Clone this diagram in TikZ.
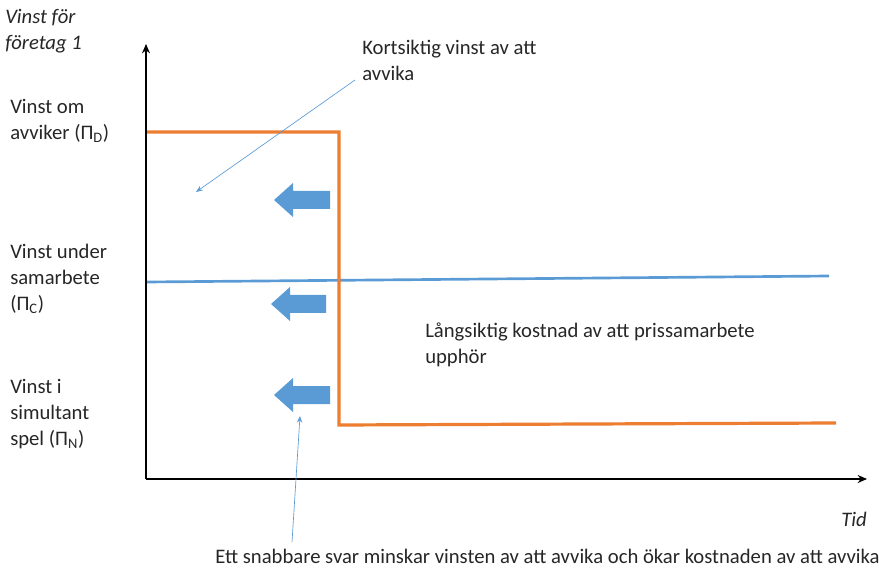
\documentclass[tikz,border=0pt]{standalone}
\usepackage{fontspec}
\setmainfont{Carlito}
\usetikzlibrary{arrows.meta}
\definecolor{axisblack}{RGB}{0,0,0}
\definecolor{devorange}{RGB}{237,125,49}
\definecolor{coopblue}{RGB}{91,155,213}
\tikzset{
  lbl/.style={anchor=north west, inner sep=0pt, align=left, font=\fontsize{15.5}{19.5}\selectfont, text=black!85},
  axisline/.style={draw=axisblack, line width=1.6pt, -{Stealth[length=7pt,width=6pt]}},
  blockarrow/.style={fill=coopblue, draw=none},
  callout/.style={draw=coopblue, line width=0.5pt, -{Stealth[length=5pt,width=4pt]}}
}
\begin{document}
\begin{tikzpicture}[x=0.75pt,y=-0.75pt]
\useasboundingbox (0,0) rectangle (879,574);
% axes
\coordinate (origin) at (146,479);
\coordinate (ytop) at (146,44);
\coordinate (xend) at (867,479);
\draw[axisline] (origin) -- (ytop);
\draw[axisline] (origin) -- (xend);
% cooperation profit
\coordinate (cA) at (147,282);
\coordinate (cB) at (829,276);
\draw[coopblue, line width=2pt] (cA) -- (cB);
% deviation profit then punishment
\coordinate (dA) at (147,132);
\coordinate (dB) at (339,132);
\coordinate (dC) at (339,425);
\coordinate (dD) at (836,423);
\draw[devorange, line width=2.4pt] (dA) -- (dB) -- (dC) -- (dD);
% left-pointing block arrows
\foreach \n/\yc/\xl/\xr in {a1/200/274/330, a2/304/271/326, a3/395/274/330}{
  \path[blockarrow] (\xr,\yc-9) -- (\xl+19,\yc-9) -- (\xl+19,\yc-17) -- (\xl,\yc)
    -- (\xl+19,\yc+17) -- (\xl+19,\yc+9) -- (\xr,\yc+9) -- cycle;
}
% labels
\node[lbl, font=\fontsize{15.5}{19.5}\selectfont\itshape] (ylab) at (5,9) {Vinst för\\företag 1};
\node[lbl] (pD) at (10,99) {Vinst om\\avviker (Π\textsubscript{D})};
\node[lbl] (pC) at (10,244) {Vinst under\\samarbete\\(Π\textsubscript{C})};
\node[lbl] (pN) at (10,379) {Vinst i\\simultant\\spel (Π\textsubscript{N})};
\node[lbl] (short) at (362,40) {Kortsiktig vinst av att\\avvika};
\node[lbl] (long) at (425,323) {Långsiktig kostnad av att prissamarbete\\upphör};
\node[lbl, font=\fontsize{15.5}{19.5}\selectfont\itshape] (tid) at (841,512) {Tid};
\node[lbl] (fast) at (215,549) {Ett snabbare svar minskar vinsten av att avvika och ökar kostnaden av att avvika};
% callout lines
\coordinate (shortEnd) at (196,192);
\coordinate (shortStart) at (355,80);
\draw[callout] (shortStart) -- (shortEnd);
\coordinate (fastStart) at (292,542);
\coordinate (fastEnd) at (300,416);
\draw[callout] (fastStart) -- (fastEnd);
\end{tikzpicture}
\end{document}
